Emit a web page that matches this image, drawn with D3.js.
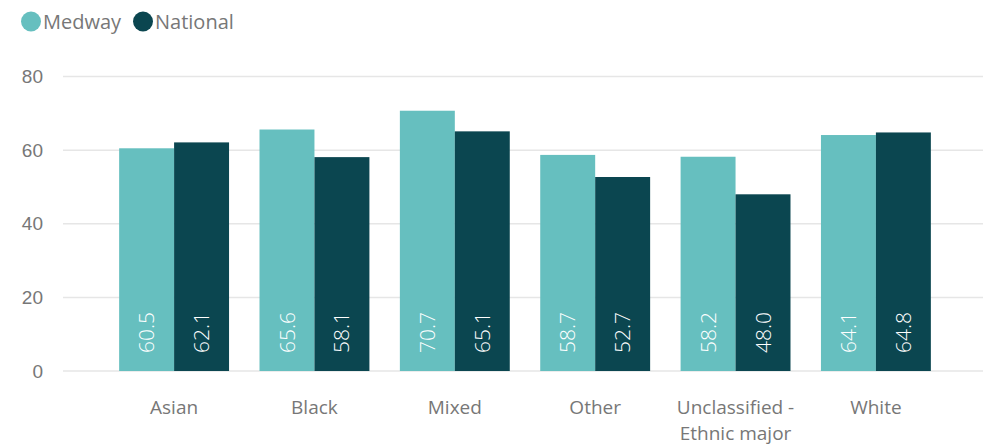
<!DOCTYPE html>
<html>
<head>
<meta charset="utf-8">
<script src="https://cdn.jsdelivr.net/npm/d3@7"></script>
<style>
  html, body { margin: 0; padding: 0; background: #fff; }
  svg { display: block; font-family: "Open Sans", "Noto Sans", sans-serif; }
</style>
</head>
<body>
<div id="chart"></div>
<script>
(function() {
  var categories = ["Asian", "Black", "Mixed", "Other", "Unclassified - Ethnic major", "White"];
  var categoryLines = [["Asian"], ["Black"], ["Mixed"], ["Other"], ["Unclassified -", "Ethnic major"], ["White"]];
  var series = ["Medway", "National"];
  var medway = [60.5, 65.6, 70.7, 58.7, 58.2, 64.1];
  var national = [62.1, 58.1, 65.1, 52.7, 48.0, 64.8];
  var yTicks = [0, 20, 40, 60, 80];
  var colors = ["#66bfbf", "#0b4650"];

  var width = 983, height = 448;

  var svg = d3.select("#chart").append("svg")
    .attr("width", width).attr("height", height);

  var x0 = d3.scaleBand().domain(categories).range([63, 987])
    .paddingInner(0.217).paddingOuter(0.4);
  var x1 = d3.scaleBand().domain(series).range([0, x0.bandwidth()]);
  var y = d3.scaleLinear().domain([0, 80]).range([371, 76.5]);
  var color = d3.scaleOrdinal().domain(series).range(colors);

  // gridlines + y labels
  var yAxis = d3.axisLeft(y).tickValues(yTicks).tickSize(0).tickPadding(0);
  var ya = svg.append("g").attr("transform", "translate(43,0)").call(yAxis);
  ya.select(".domain").remove();
  ya.selectAll("text").attr("fill", "#777").style("font-size", "19px");

  svg.append("g").selectAll("line").data(yTicks).enter().append("line")
    .attr("x1", 63).attr("x2", width)
    .attr("y1", function(d) { return y(d); })
    .attr("y2", function(d) { return y(d); })
    .attr("stroke", "#e6e6e6").attr("stroke-width", 1.5);

  var rows = categories.map(function(c, i) {
    return { cat: c, vals: [
      { key: "Medway", value: medway[i] },
      { key: "National", value: national[i] }
    ] };
  });

  var groups = svg.append("g").selectAll("g").data(rows).enter().append("g")
    .attr("transform", function(d) { return "translate(" + x0(d.cat) + ",0)"; });

  groups.selectAll("rect").data(function(d) { return d.vals; }).enter().append("rect")
    .attr("x", function(d) { return x1(d.key); })
    .attr("width", x1.bandwidth())
    .attr("y", function(d) { return y(d.value); })
    .attr("height", function(d) { return y(0) - y(d.value); })
    .attr("fill", function(d) { return color(d.key); });

  groups.selectAll("text").data(function(d) { return d.vals; }).enter().append("text")
    .attr("transform", function(d) {
      var cx = x1(d.key) + x1.bandwidth() / 2;
      return "translate(" + cx + "," + (y(0) - 18) + ") rotate(-90)";
    })
    .attr("dy", "0.36em")
    .attr("fill", "#fff")
    .style("font-size", "21px")
    .style("font-weight", 300)
    .text(function(d) { return d.value.toFixed(1); });

  // category labels
  var xl = svg.append("g").selectAll("text").data(categories).enter().append("text")
    .attr("x", function(d) { return x0(d) + x0.bandwidth() / 2; })
    .attr("y", 414)
    .attr("text-anchor", "middle")
    .attr("fill", "#777")
    .style("font-size", "19px");
  xl.each(function(d, i) {
    var t = d3.select(this);
    categoryLines[i].forEach(function(line, j) {
      t.append("tspan").attr("x", x0(d) + x0.bandwidth() / 2)
        .attr("dy", j === 0 ? 0 : 26).text(line);
    });
  });

  // legend
  var legend = svg.append("g").selectAll("g").data(series).enter().append("g")
    .attr("transform", function(d, i) { return "translate(" + [31, 143][i] + ",21.5)"; });
  legend.append("circle").attr("r", 10).attr("fill", function(d) { return color(d); });
  legend.append("text").attr("x", 12).attr("dy", "0.36em")
    .attr("fill", "#777").style("font-size", "20px")
    .text(function(d) { return d; });
})();
</script>
</body>
</html>
